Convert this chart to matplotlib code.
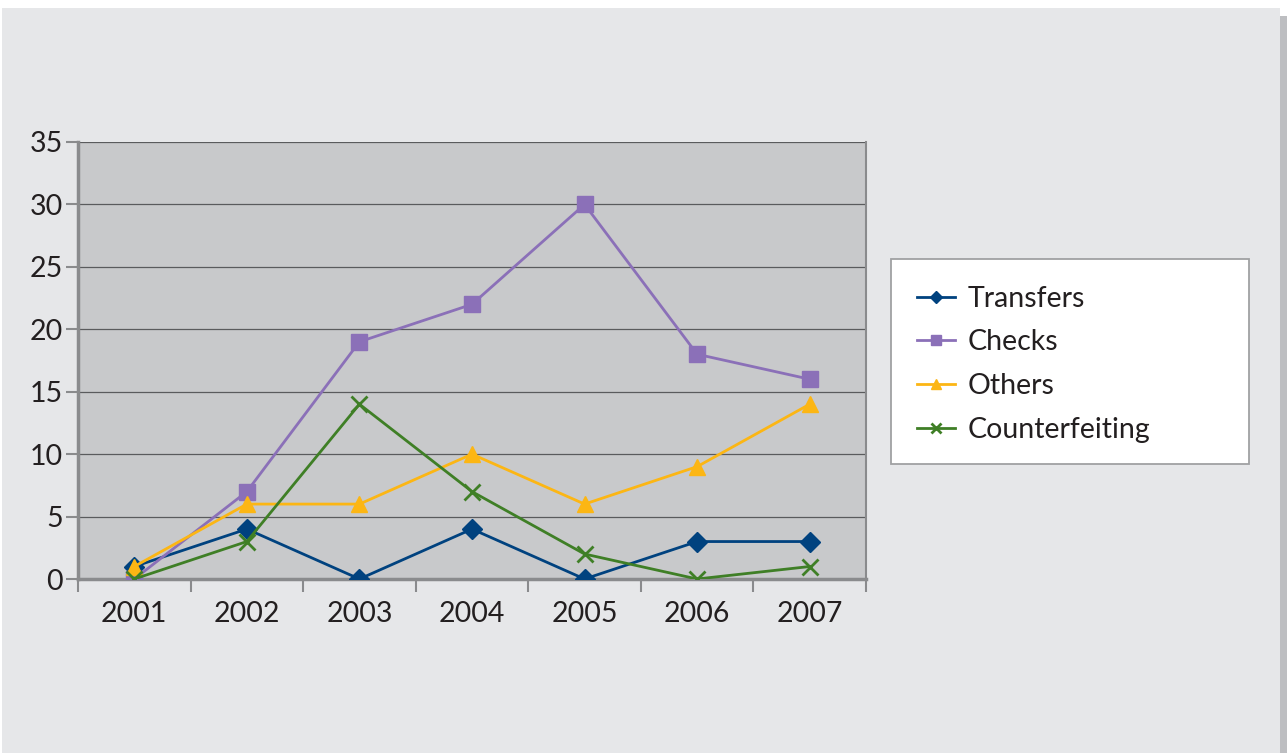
import matplotlib.pyplot as plt
import matplotlib.patches as mpatches

# data
years = ['2001', '2002', '2003', '2004', '2005', '2006', '2007']
transfers = [1, 4, 0, 4, 0, 3, 3]
checks = [0, 7, 19, 22, 30, 18, 16]
others = [1, 6, 6, 10, 6, 9, 14]
counterfeiting = [0, 3, 14, 7, 2, 0, 1]
yticks = [0, 5, 10, 15, 20, 25, 30, 35]

plt.rcParams['font.family'] = ['Lato', 'DejaVu Sans']

W, H = 1287, 753
fig = plt.figure(figsize=(W / 100, H / 100), dpi=100, facecolor='white')

# page background and right-hand strip
fig.patches.append(mpatches.Rectangle((2 / W, 0), 1278 / W, 1 - 8 / H, transform=fig.transFigure,
                                      facecolor='#e6e7e9', edgecolor='none', zorder=-10))
fig.patches.append(mpatches.Rectangle((1280 / W, 0), 7 / W, 1 - 16 / H, transform=fig.transFigure,
                                      facecolor='#bdbec1', edgecolor='none', zorder=-10))

ax = fig.add_axes([78 / W, 1 - 579 / H, 788 / W, 437 / H])
ax.set_facecolor('#c8c9cb')

x = range(len(years))
lw = 2.0
ax.plot(x, transfers, color='#00427f', marker='D', markersize=10, linewidth=lw, label='Transfers', zorder=3)
ax.plot(x, checks, color='#8b70b8', marker='s', markersize=11, linewidth=lw, label='Checks', zorder=3)
ax.plot(x, others, color='#fcb614', marker='^', markersize=12, linewidth=lw, label='Others', zorder=3)
ax.plot(x, counterfeiting, color='#3f7f26', marker='x', markersize=12, markeredgewidth=2,
        linewidth=lw, label='Counterfeiting', zorder=3)

ax.set_xlim(-0.5, len(years) - 0.5)
ax.set_ylim(0, 35)
ax.set_yticks(yticks)
ax.set_xticks([i - 0.5 for i in range(len(years) + 1)], minor=False)
ax.set_xticklabels([])
ax.set_xticks(list(x), minor=True)
ax.set_xticklabels(years, minor=True, fontsize=20.5, color='#231f20')
ax.tick_params(axis='x', which='minor', length=0, pad=16)
ax.tick_params(axis='x', which='major', length=9, width=1.5, color='#8a8b8d', direction='out')
ax.tick_params(axis='y', length=9, width=1.5, color='#8a8b8d', direction='out', labelsize=20.5,
               labelcolor='#231f20', pad=2)

ax.grid(axis='y', color='#5a5b5d', linewidth=0.9)
ax.set_axisbelow(True)
for side in ['left', 'bottom']:
    ax.spines[side].set_color('#8a8b8d')
    ax.spines[side].set_linewidth(2.5)
ax.spines['top'].set_visible(False)
ax.spines['right'].set_color('#8a8b8d')
ax.spines['right'].set_linewidth(1.5)

# legend box drawn separately so it can be wider than its text
fig.patches.append(mpatches.Rectangle((891 / W, 1 - 464 / H), 358 / W, 205 / H, transform=fig.transFigure,
                                      facecolor='white', edgecolor='#a0a1a3', linewidth=1.3, zorder=1))
leg = fig.legend(loc='upper left', bbox_to_anchor=(894 / W, 1 - 263 / H), fontsize=20.5,
                 frameon=False, borderpad=0.3, labelspacing=0.62,
                 handlelength=1.35, handletextpad=0.45, markerscale=0.6)
leg.set_zorder(2)
for t in leg.get_texts():
    t.set_color('#231f20')

fig.savefig('out.png', dpi=100, facecolor='white')
